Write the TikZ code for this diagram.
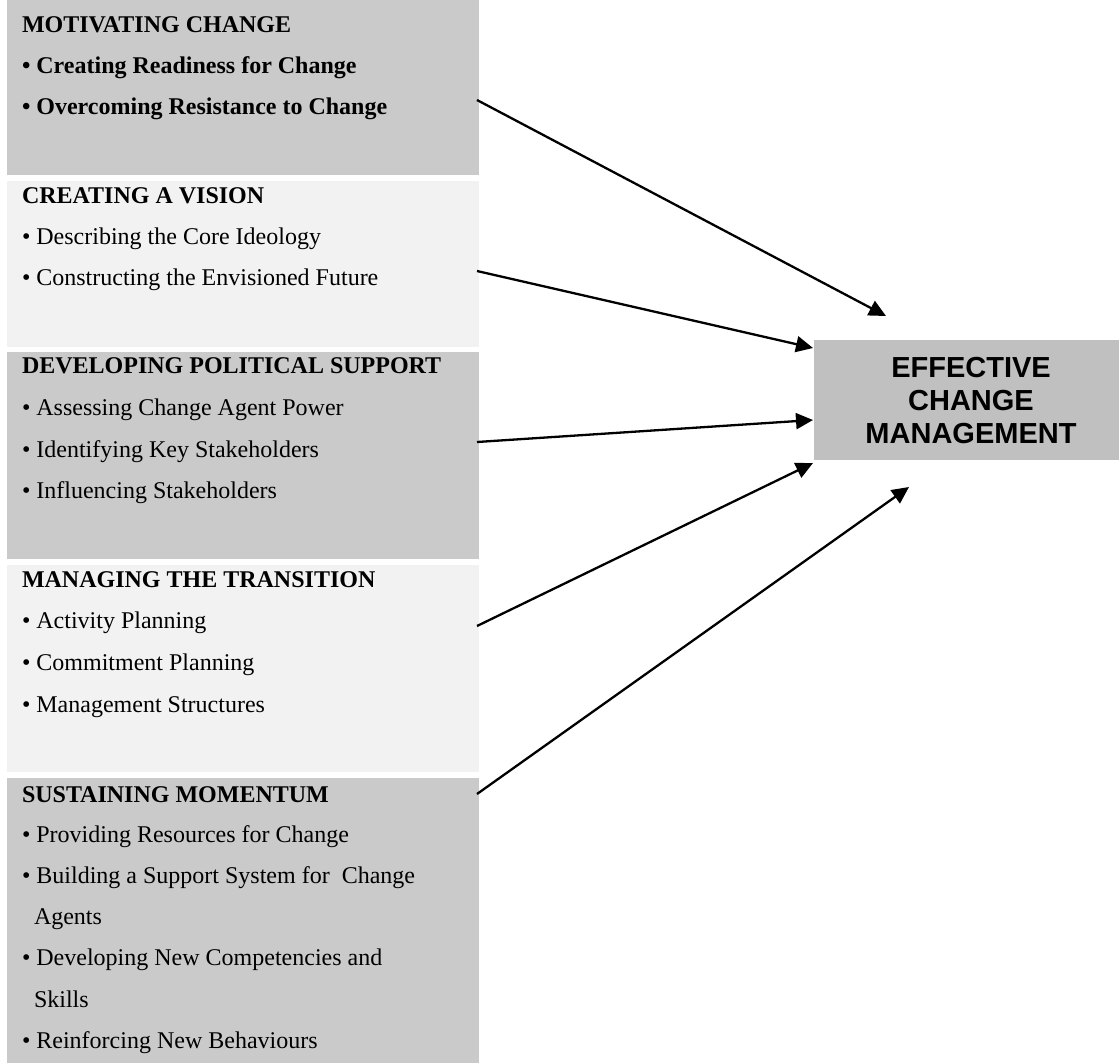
\documentclass[tikz,border=0pt]{standalone}
\usepackage{fontspec}
\setmainfont{Liberation Serif}
\newfontfamily\arialfont{Liberation Sans}
\usetikzlibrary{arrows.meta,calc}
\definecolor{boxdark}{HTML}{CACACA}
\definecolor{boxlight}{HTML}{F2F2F2}
\definecolor{effbox}{HTML}{C0C0C0}
\begin{document}
\begin{tikzpicture}[x=1pt,y=-1pt,
  panel/.style={draw=none,inner sep=0pt,outer sep=0pt,anchor=north west,minimum width=472pt},
  txt/.style={inner sep=0pt,outer sep=0pt,anchor=base west,font=\fontsize{24}{29}\selectfont},
  head/.style={txt,font=\fontsize{24}{29}\selectfont\bfseries},
  efft/.style={inner sep=0pt,outer sep=0pt,anchor=base,font=\arialfont\fontsize{29}{33}\selectfont\bfseries},
  conn/.style={line width=2.3pt,-{Triangle[length=17pt,width=16pt]}}]
\useasboundingbox (0,0) rectangle (1119,1063);
% panels
\node[panel,fill=boxdark,minimum height=175pt] (b1) at (7,0) {};
\node[panel,fill=boxlight,minimum height=166pt] (b2) at (7,181) {};
\node[panel,fill=boxdark,minimum height=207pt] (b3) at (7,352) {};
\node[panel,fill=boxlight,minimum height=207pt] (b4) at (7,565) {};
\node[panel,fill=boxdark,minimum height=285pt] (b5) at (7,778) {};
% target
\node[draw=none,fill=effbox,inner sep=0pt,outer sep=0pt,anchor=north west,
  minimum width=305pt,minimum height=120pt] (eff) at (814,340) {};
\node[efft] (eff1) at (971,377) {EFFECTIVE};
\node[efft] (eff2) at (971,410) {CHANGE};
\node[efft] (eff3) at (971,443) {MANAGEMENT};
% texts panel 1
\node[head] (h1) at (22,32) {MOTIVATING CHANGE};
\node[head] (t11) at (22,73) {• Creating Readiness for Change};
\node[head] (t12) at (22,114) {• Overcoming Resistance to Change};
% panel 2
\node[head] (h2) at (22,203) {CREATING A VISION};
\node[txt] (t21) at (22,244) {• Describing the Core Ideology};
\node[txt] (t22) at (22,285) {• Constructing the Envisioned Future};
% panel 3
\node[head] (h3) at (22,373) {DEVELOPING POLITICAL SUPPORT};
\node[txt] (t31) at (22,415) {• Assessing Change Agent Power};
\node[txt] (t32) at (22,457) {• Identifying Key Stakeholders};
\node[txt] (t33) at (22,498) {• Influencing Stakeholders};
% panel 4
\node[head] (h4) at (22,587) {MANAGING THE TRANSITION};
\node[txt] (t41) at (22,628) {• Activity Planning};
\node[txt] (t42) at (22,670) {• Commitment Planning};
\node[txt] (t43) at (22,712) {• Management Structures};
% panel 5
\node[head] (h5) at (22,802) {SUSTAINING MOMENTUM};
\node[txt] (t51) at (22,842) {• Providing Resources for Change};
\node[txt] (t52) at (22,883) {• Building a Support System for \ Change};
\node[txt] (t53) at (34,924) {Agents};
\node[txt] (t54) at (22,965) {• Developing New Competencies and};
\node[txt] (t55) at (34,1007) {Skills};
\node[txt] (t56) at (22,1048) {• Reinforcing New Behaviours};
% connector endpoints
\coordinate (s1) at ($(b1.north east)+(-2,100)$);
\coordinate (s2) at ($(b2.north east)+(-2,90)$);
\coordinate (s3) at ($(b3.north east)+(-2,90)$);
\coordinate (s4) at ($(b4.north east)+(-2,61)$);
\coordinate (s5) at ($(b5.north east)+(-2,16)$);
\coordinate (e1) at ($(eff.north west)+(72,-24)$);
\coordinate (e2) at ($(eff.north west)+(-1,8)$);
\coordinate (e4) at ($(eff.south west)+(-1,3)$);
\coordinate (e5) at ($(eff.south west)+(95,27)$);
\draw[conn] (s1) -- (e1);
\draw[conn] (s2) -- (e2);
\draw[conn] (s3) -- ($(eff.west)+(-1,20)$);
\draw[conn] (s4) -- (e4);
\draw[conn] (s5) -- (e5);
\end{tikzpicture}
\end{document}
